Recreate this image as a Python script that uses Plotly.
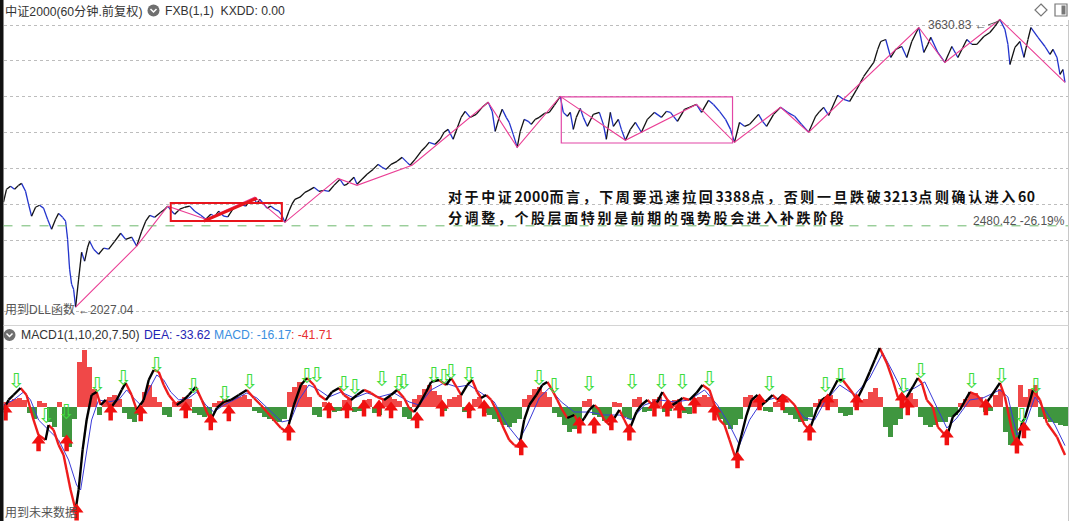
import plotly.graph_objects as go

W, H = 1080, 521


def px(x):
    return x / W


def py(y):
    return 1 - y / H


# ---------------- main panel: 60-min close (bar index, price) ----------------
bar_idx = [0, 3, 7, 11, 15, 18, 22, 25, 28, 32,
           36, 40, 44, 48, 52, 55, 59, 62, 64, 66,
           68, 70, 72, 75, 78, 81, 84, 86, 90, 95,
           100, 105, 111, 117, 122, 128, 133, 138, 142, 146,
           151, 157, 161, 164, 168, 171, 176, 181, 186, 191,
           197, 202, 207, 211, 215, 220, 224, 229, 236, 242,
           246, 250, 253, 256, 260, 263, 267, 271, 275, 278,
           281, 285, 288, 291, 296, 301, 305, 310, 315, 320,
           325, 330, 336, 340, 343, 347, 350, 353, 358, 363,
           369, 374, 378, 382, 387, 393, 398, 403, 406, 411,
           417, 421, 425, 431, 436, 440, 444, 449, 453, 457,
           461, 466, 472, 478, 484, 488, 491, 495, 498, 502,
           505, 509, 513, 516, 520, 524, 527, 531, 535, 540,
           545, 550, 556, 559, 563, 566, 569, 572, 576, 579,
           583, 589, 595, 599, 602, 606, 609, 614, 617, 621,
           626, 631, 637, 643, 650, 657, 662, 666, 673, 680,
           685, 692, 697, 704, 709, 715, 721, 726, 730, 735,
           740, 745, 754, 758, 762, 769, 776, 783, 790, 797,
           804, 811, 815, 819, 824, 833, 839, 845, 852, 859,
           864, 869, 873, 876, 881, 886, 891, 897, 902, 907,
           914, 919, 923, 926, 933, 940, 947, 953, 958, 962,
           967, 972, 979, 985, 990, 995, 1000, 1003, 1005, 1010,
           1015, 1019, 1023, 1026, 1033, 1040, 1045, 1048, 1052, 1055,
           1058, 1060]
close = [2612, 2684, 2701, 2684, 2706, 2717, 2673, 2601, 2534, 2584,
         2595, 2579, 2517, 2461, 2517, 2550, 2528, 2506, 2406, 2239,
         2155, 2127, 2027.04, 2183, 2333, 2283, 2361, 2394, 2350, 2322,
         2356, 2350, 2394, 2439, 2405, 2417, 2367, 2450, 2506, 2539,
         2528, 2556, 2573, 2590, 2562, 2545, 2573, 2584, 2590, 2562,
         2539, 2517, 2545, 2534, 2562, 2534, 2530, 2573, 2601, 2590,
         2623, 2634, 2606, 2628, 2601, 2579, 2590, 2573, 2562, 2539,
         2500, 2562, 2601, 2628, 2640, 2667, 2678, 2695, 2673, 2678,
         2673, 2706, 2740, 2706, 2712, 2734, 2751, 2712, 2740, 2768,
         2795, 2823, 2807, 2795, 2823, 2840, 2862, 2834, 2818, 2851,
         2896, 2918, 2946, 2935, 2963, 3002, 3018, 2963, 3024, 3085,
         3118, 3085, 3102, 3141, 3169, 3118, 3007, 3085, 3130, 3085,
         3057, 2990, 2918, 3007, 3074, 3063, 3046, 3074, 3085, 3107,
         3113, 3152, 3202, 3113, 3091, 3113, 3018, 3085, 3135, 3085,
         3035, 3102, 3113, 3046, 2963, 3113, 3035, 3074, 3018, 2957,
         3018, 3057, 3002, 3074, 3113, 3085, 3118, 3113, 3063, 3130,
         3141, 3157, 3113, 3180, 3157, 3118, 3074, 3018, 2946, 3057,
         3035, 3046, 3102, 3063, 3035, 3102, 3141, 3113, 3091, 3046,
         3002, 3091, 3118, 3141, 3096, 3208, 3185, 3174, 3241, 3313,
         3352, 3391, 3464, 3508, 3519, 3419, 3464, 3480, 3419, 3508,
         3586, 3447, 3492, 3531, 3447, 3391, 3480, 3419, 3475, 3519,
         3492, 3492, 3536, 3558, 3592, 3630.83, 3575, 3492, 3380, 3475,
         3508, 3419, 3519, 3586, 3531, 3480, 3436, 3464, 3419, 3325,
         3352, 3280]

# zig-zag (FXB) turning points
zz_idx = [72, 133, 164, 202, 251, 281, 334, 353, 408, 484, 513,
          556, 621, 692, 730, 776, 804, 914, 940, 995, 1060]
zz_val = [2027.04, 2367, 2590, 2517, 2640, 2500, 2745, 2706, 2818, 3169, 2918,
          3202, 2957, 3157, 2946, 3141, 3002, 3586, 3391, 3630.83, 3280]

grid_prices = [2000, 2200, 2400, 2600, 2800, 3000, 3200, 3400, 3600]
ref_level = 2480.42

# ---------------- MACD panel ----------------
dif_idx = [0, 5, 10, 17, 23, 30, 35, 42, 45, 50,
           55, 60, 63, 67, 72, 75, 79, 83, 88, 93,
           97, 102, 107, 113, 118, 122, 128, 133, 140, 145,
           150, 155, 160, 165, 173, 180, 185, 192, 198, 203,
           207, 213, 220, 227, 235, 243, 250, 257, 263, 270,
           277, 283, 290, 297, 303, 310, 315, 322, 328, 335,
           340, 347, 353, 360, 367, 373, 380, 387, 393, 400,
           405, 410, 415, 422, 427, 435, 442, 447, 453, 457,
           463, 468, 473, 477, 482, 487, 493, 498, 505, 510,
           515, 520, 525, 532, 538, 543, 548, 553, 558, 563,
           570, 575, 580, 585, 590, 595, 600, 605, 610, 615,
           620, 625, 632, 637, 643, 648, 653, 658, 663, 668,
           673, 678, 685, 692, 698, 705, 710, 715, 720, 725,
           731, 737, 742, 747, 753, 757, 763, 768, 773, 778,
           783, 790, 795, 800, 805, 812, 817, 825, 833, 838,
           848, 852, 858, 865, 870, 875, 882, 888, 893, 897,
           902, 908, 913, 917, 922, 928, 933, 942, 948, 955,
           965, 972, 980, 985, 995, 1000, 1007, 1012, 1017, 1020,
           1028, 1035, 1042, 1052, 1060]
dif_val = [-2.6, 6.1, 10.4, 16.5, 10.4, -11.3, -24.4, -28.7, -15.7, -20.0,
           -33.0, -41.8, -54.8, -72.2, -89.6, -72.2, -37.4, -11.3, 10.4, 13.0,
           1.7, 6.1, -0.9, 6.1, 14.8, 20.9, 10.4, -2.6, 6.1, 23.5,
           32.2, 30.5, 19.1, 10.4, 1.7, 6.1, 10.4, 17.4, 6.1, -4.4,
           -11.3, -0.9, 4.4, 6.1, 10.4, 14.8, 7.8, 1.7, -4.4, -11.3,
           -18.3, -21.8, 1.7, 19.1, 25.2, 19.1, 10.4, 6.1, 13.0, 16.5,
           10.4, 6.1, 10.4, 14.8, 12.2, 8.7, 6.1, 10.4, 14.8, 7.8,
           -0.9, -4.4, 1.7, 13.0, 21.8, 23.5, 19.1, 25.2, 16.5, 10.4,
           19.1, 23.5, 13.0, 7.8, 10.4, 6.1, -4.4, -15.7, -28.7, -33.1,
           -34.8, -11.3, 1.7, 10.4, 19.1, 21.8, 14.8, 6.1, -2.6, -9.6,
           -7.0, -15.7, -9.6, -2.6, 1.7, -2.6, -11.3, -15.7, -9.6, -2.6,
           -11.3, -20.0, -4.4, 1.7, 6.1, 1.7, 4.4, 13.0, 6.1, 1.7,
           4.4, 7.8, 6.1, 12.2, 19.1, 14.8, 1.7, -11.3, -15.7, -28.7,
           -44.4, -24.4, -7.0, 6.1, 10.4, 1.7, 6.1, 10.4, 6.1, 10.4,
           7.8, 1.7, -7.0, -15.7, -20.0, -2.6, 6.1, 10.4, 23.5, 23.5,
           12.2, 6.1, 16.5, 30.5, 40.9, 51.3, 38.3, 23.5, 8.7, 6.1,
           8.7, 17.4, 25.2, 20.9, 6.1, 0.0, -17.4, -26.1, -8.7, -2.6,
           13.0, 10.4, 1.7, 7.8, 20.9, 8.7, -20.0, -34.8, -13.9, -9.6,
           14.8, 6.1, -13.9, -26.1, -41.71]

dea_idx = [0, 10, 20, 27, 35, 45, 55, 65, 73, 77,
           83, 88, 95, 105, 115, 123, 130, 137, 145, 153,
           160, 167, 175, 185, 193, 202, 210, 220, 230, 243,
           253, 265, 278, 287, 295, 305, 315, 325, 337, 350,
           363, 375, 390, 405, 415, 427, 440, 453, 465, 477,
           490, 503, 515, 523, 535, 545, 557, 570, 585, 600,
           615, 627, 640, 655, 670, 685, 700, 713, 725, 735,
           745, 757, 770, 785, 800, 810, 820, 835, 850, 865,
           878, 888, 898, 910, 920, 930, 942, 952, 965, 978,
           995, 1003, 1012, 1020, 1030, 1040, 1050, 1060]
dea_val = [1.7, 6.1, 13.0, 6.1, -11.3, -20.0, -28.7, -46.1, -67.9, -72.2,
           -37.4, -11.3, 6.1, 4.4, 6.1, 14.8, 7.8, 1.7, 14.8, 27.8,
           23.5, 13.0, 6.1, 7.8, 13.0, 1.7, -4.4, 1.7, 6.1, 12.2,
           7.8, -2.6, -13.0, -11.3, 6.1, 19.1, 14.8, 8.7, 13.0, 7.8,
           12.2, 8.7, 12.2, 4.4, 1.7, 14.8, 20.9, 17.4, 19.1, 12.2,
           4.4, -15.7, -28.7, -15.7, 7.8, 16.5, 4.4, -4.4, -4.4, -7.0,
           -7.0, -11.3, 1.7, 6.1, 4.4, 6.1, 14.8, 1.7, -15.7, -33.1,
           -11.3, 4.4, 7.8, 6.1, -9.6, -11.3, 4.4, 19.1, 10.4, 25.2,
           47.0, 30.5, 13.0, 16.5, 21.8, 3.5, -18.3, -9.6, 6.1, 7.8,
           14.8, 8.7, -24.4, -15.7, 8.7, -2.6, -15.7, -33.62]

hist_idx = list(range(0, 1061, 5))
hist_val = [4.4, 5.2, 7.0, 7.8, 6.1, -5.2, -10.4, 5.2, 3.5, -13.1,
            -17.4, 4.4, -26.1, -34.8, -10.4, 39.2, 49.6, 34.8, 15.7, -7.0,
            4.4, 8.7, 10.4, 7.0, -5.2, -10.4, -13.1, -7.0, 13.1, 19.1,
            8.7, 4.4, -7.0, -8.7, 4.4, 5.2, 8.7, 7.0, -5.2, -7.0,
            -8.7, -7.0, 3.5, 5.2, 7.0, 5.2, 7.8, 8.7, 10.4, 7.0,
            -3.5, -5.2, -8.7, -10.4, -12.2, -13.1, -10.4, 13.1, 17.4, 21.8,
            19.1, 8.7, -7.0, -8.7, 4.4, 3.5, -4.4, -3.5, 6.1, 7.0,
            -4.4, -3.5, 6.1, 7.0, -5.2, -7.0, 7.0, 8.7, 7.0, 5.2,
            -8.7, -10.4, 7.0, 10.4, 15.7, 19.1, 13.9, 10.4, -3.5, 7.0,
            8.7, 10.4, -4.4, -3.5, 7.0, 8.7, -5.2, -7.0, -10.4, -13.1,
            -15.7, -17.4, -13.9, -10.4, 7.0, 10.4, 15.7, 17.4, 13.1, 8.7,
            -5.2, -8.7, -15.7, -21.8, -19.1, -10.4, 5.2, 7.0, -7.0, -8.7,
            -12.2, -13.1, 4.4, 3.5, -8.7, -10.4, 7.0, 8.7, -4.4, -3.5,
            7.0, 8.7, -4.4, -3.5, 6.1, 7.0, -5.2, -6.1, 7.8, 8.7,
            10.4, 8.7, -7.0, -10.4, -15.7, -19.1, -15.7, -10.4, 8.7, 10.4,
            7.0, 5.2, -3.5, -4.4, 4.4, 3.5, -5.2, -7.0, -10.4, -13.1,
            -12.2, -8.7, 3.5, 7.0, 8.7, 10.4, 7.0, -5.2, -7.8, -7.0,
            5.2, 6.1, 7.0, 13.1, 16.5, 8.7, -17.4, -26.1, -15.7, -10.4,
            8.7, 12.2, 7.0, -8.7, -15.7, -17.4, -15.7, -13.1, -13.1, -8.7,
            -7.0, 3.5, 7.0, 13.1, 12.2, 8.7, -4.4, -3.5, 10.4, 15.7,
            -21.8, -33.1, -30.5, 19.1, 8.7, 15.7, 19.1, -8.7, -10.4, -13.1,
            -13.9, -15.7, -16.17]

sell_idx = [13, 43, 63, 94, 120, 153, 190, 221, 246, 303, 313, 340, 351, 378,
            395, 400, 430, 440, 447, 465, 535, 550, 585, 628, 657, 678, 705,
            765, 821, 836, 899, 916, 967, 997, 1017, 1031]
sell_val = [20.9, -9.6, -6.1, 17.4, 23.5, 34.8, 16.5, 9.6, 20.0, 25.2, 26.1, 18.3,
            15.7, 22.6, 18.3, 20.0, 26.1, 24.4, 28.7, 26.1, 23.5, 16.5, 18.3, 20.0,
            20.0, 20.0, 22.6, 18.3, 17.4, 25.2, 16.5, 29.6, 20.9, 25.2, -9.6, 16.5]
buy_idx = [2, 35, 63, 73, 107, 137, 182, 207, 225, 285, 325, 343, 360, 375, 387,
           413, 438, 465, 480, 517, 575, 590, 607, 625, 650, 663, 675, 690, 710,
           733, 755, 778, 805, 823, 852, 897, 903, 942, 981, 1012, 1019]
buy_val = [-4.4, -31.3, -31.3, -91.4, -4.4, -5.2, -2.6, -13.0, -5.2, -21.8, -2.6,
           -2.6, -0.9, -0.9, -2.6, -11.3, -0.9, -2.6, -0.9, -34.8, -15.7, -15.7,
           -13.0, -21.8, -0.9, -0.9, -2.6, 1.7, -4.4, -46.1, 4.4, 4.4, -21.8, 4.4,
           4.4, 6.1, 0.0, -26.1, 0.0, -33.1, -20.0]

# ---------------- figure ----------------
fig = go.Figure()


def split_segments(xs, ys):
    ux, uy, dx, dy = [], [], [], []
    for i in range(len(xs) - 1):
        if ys[i + 1] >= ys[i]:
            ux += [xs[i], xs[i + 1], None]
            uy += [ys[i], ys[i + 1], None]
        else:
            dx += [xs[i], xs[i + 1], None]
            dy += [ys[i], ys[i + 1], None]
    return ux, uy, dx, dy


ux, uy, dx, dy = split_segments(bar_idx, close)
fig.add_trace(go.Scatter(x=dx, y=dy, mode="lines", line=dict(color="#2233cc", width=1.3),
                         xaxis="x", yaxis="y", hoverinfo="skip", showlegend=False))
fig.add_trace(go.Scatter(x=ux, y=uy, mode="lines", line=dict(color="#111111", width=1.3),
                         xaxis="x", yaxis="y", hoverinfo="skip", showlegend=False))
fig.add_trace(go.Scatter(x=zz_idx, y=zz_val, mode="lines", line=dict(color="#ea3f95", width=1.1),
                         xaxis="x", yaxis="y", hoverinfo="skip", showlegend=False))

# MACD histogram
fig.add_trace(go.Bar(x=hist_idx, y=hist_val, width=5,
                     marker=dict(color=["#f04848" if v >= 0 else "#3f963f" for v in hist_val],
                                 line=dict(width=0)),
                     xaxis="x2", yaxis="y2", hoverinfo="skip", showlegend=False))
fig.add_trace(go.Scatter(x=dea_idx, y=dea_val, mode="lines", line=dict(color="#3a3ad8", width=1),
                         xaxis="x2", yaxis="y2", hoverinfo="skip", showlegend=False))
ux, uy, dx, dy = split_segments(dif_idx, dif_val)
fig.add_trace(go.Scatter(x=dx, y=dy, mode="lines", line=dict(color="#ee1c1c", width=2.4),
                         xaxis="x2", yaxis="y2", hoverinfo="skip", showlegend=False))
fig.add_trace(go.Scatter(x=ux, y=uy, mode="lines", line=dict(color="#000000", width=2.4),
                         xaxis="x2", yaxis="y2", hoverinfo="skip", showlegend=False))

# signal arrows: green hollow down (sell), red solid up (buy)
fig.add_trace(go.Scatter(x=sell_idx, y=sell_val, mode="text", text=["⇩"] * len(sell_idx),
                         textfont=dict(family="DejaVu Sans", size=21, color="#3edc3e"),
                         xaxis="x2", yaxis="y2", hoverinfo="skip", showlegend=False))
UNIT = 0.87  # MACD units per pixel
fig.add_trace(go.Scatter(x=buy_idx, y=[v - 3.5 * UNIT for v in buy_val], mode="markers",
                         marker=dict(symbol="line-ns", size=7, line=dict(color="#f01010", width=4.5)),
                         xaxis="x2", yaxis="y2", hoverinfo="skip", showlegend=False))
fig.add_trace(go.Scatter(x=buy_idx, y=[v + 2.5 * UNIT for v in buy_val], mode="markers",
                         marker=dict(symbol="triangle-up", size=12, color="#f01010", line=dict(width=0)),
                         xaxis="x2", yaxis="y2", hoverinfo="skip", showlegend=False))

# axes mapping
x_range = [0, 1063]
p_top, p_bot = 3639.0, 1944.2
m_top, m_bot = 60.0, -99.2

shapes = [
    # left dark strip
    dict(type="rect", xref="paper", yref="paper", x0=0, x1=px(3.5), y0=0, y1=1,
         fillcolor="#111111", line=dict(width=0), layer="above"),
    # right border
    dict(type="line", xref="paper", yref="paper", x0=px(1068.5), x1=px(1068.5), y0=0, y1=py(20),
         line=dict(color="#c8c8c8", width=1)),
    # panel separator
    dict(type="line", xref="paper", yref="paper", x0=px(3.5), x1=px(1068.5), y0=py(325.5), y1=py(325.5),
         line=dict(color="#d4d4d4", width=1)),
    # reference dashed level
    dict(type="line", xref="paper", yref="y", x0=px(3.5), x1=px(1068), y0=ref_level, y1=ref_level,
         line=dict(color="#6db86d", width=1, dash="dash")),
    # red box 1
    dict(type="rect", xref="x", yref="y", x0=167, x1=278, y0=2507, y1=2608,
         line=dict(color="#e8141c", width=2)),
    # thick red trend line inside box 1
    dict(type="line", xref="x", yref="y", x0=200, x1=253, y0=2507, y1=2634,
         line=dict(color="#e8141c", width=3)),
    # pink box 2
    dict(type="rect", xref="x", yref="y", x0=557, x1=728, y0=2942, y1=3199,
         line=dict(color="#e246a6", width=1.2)),
    # peak label leader
    dict(type="line", xref="paper", yref="paper", x0=px(988), x1=px(999), y0=py(25), y1=py(21),
         line=dict(color="#555555", width=1)),
    # header icon (circle)
    dict(type="circle", xref="paper", yref="paper", x0=px(147.5), x1=px(159.5), y0=py(16.5), y1=py(4.5),
         fillcolor="#6f6f6f", line=dict(width=0)),
    dict(type="path", xref="paper", yref="paper",
         path=f"M{px(150.5)},{py(9)} L{px(153.5)},{py(12)} L{px(156.5)},{py(9)}",
         line=dict(color="white", width=1.5)),
    # MACD icon
    dict(type="circle", xref="paper", yref="paper", x0=px(3.5), x1=px(15.5), y0=py(341), y1=py(329),
         fillcolor="#6f6f6f", line=dict(width=0)),
    dict(type="path", xref="paper", yref="paper",
         path=f"M{px(6.5)},{py(333.5)} L{px(9.5)},{py(336.5)} L{px(12.5)},{py(333.5)}",
         line=dict(color="white", width=1.5)),
    # top-right icons
    dict(type="path", xref="paper", yref="paper",
         path=f"M{px(1041)},{py(4)} L{px(1047)},{py(10)} L{px(1041)},{py(16)} L{px(1035)},{py(10)} Z",
         line=dict(color="#777777", width=1.2)),
    dict(type="rect", xref="paper", yref="paper", x0=px(1055), x1=px(1067), y0=py(16), y1=py(4),
         line=dict(color="#777777", width=1.2)),
    dict(type="rect", xref="paper", yref="paper", x0=px(1061.5), x1=px(1065.5), y0=py(14.5), y1=py(5.5),
         fillcolor="#777777", line=dict(width=0)),
]

FAM = "Liberation Sans, Noto Sans CJK SC, sans-serif"
hdr_font = dict(family=FAM, size=12.2, color="#333333")
gray_font = dict(family=FAM, size=12, color="#555555")
note_font = dict(family="Noto Sans CJK SC, sans-serif", size=14, color="#111111")

line1_parts = ["对于中证", "2000", "而言，下周要迅速拉回", "3388", "点，否则一旦跌破", "3213", "点则确认进入", "60"]
line2_parts = ["分调整，个股层面特别是前期的强势股会进入补跌阶段"]


def spaced(parts):
    out = []
    for p in parts:
        if p.isdigit():
            out.append("<span style='letter-spacing:0.5px'>" + p + "</span>")
        else:
            out.append("<span style='letter-spacing:2.6px'>" + p + "</span>")
    return "<b>" + "".join(out) + "</b>"


def label(x, y, text, font, anchor="left"):
    return dict(x=px(x), y=py(y), xref="paper", yref="paper", xanchor=anchor, yanchor="middle",
                text=text, showarrow=False, font=font)


annotations = [
    label(3, 11, "中证2000(60分钟.前复权)", hdr_font),
    label(163, 11, "FXB(1,1)  KXDD: 0.00", hdr_font),
    label(19, 335, "MACD1(1,10,20,7.50)", hdr_font),
    label(142, 335, "DEA: -33.62", dict(family=FAM, size=12.2, color="#2424b4")),
    label(212, 335, "MACD: -16.17", dict(family=FAM, size=12.2, color="#3b8fe0")),
    label(289, 335, ": -41.71", dict(family=FAM, size=12.2, color="#e83030")),
    label(3, 309, "用到DLL函数", gray_font),
    label(76, 310, "←2027.04", gray_font),
    label(989, 25, "3630.83 ←", gray_font, anchor="right"),
    label(1067, 221, "2480.42 -26.19%", gray_font, anchor="right"),
    label(3, 512, "用到未来数据", gray_font),
    label(446, 196, spaced(line1_parts), note_font),
    label(446, 217, spaced(line2_parts), note_font),
]

fig.update_layout(
    width=W, height=H,
    margin=dict(l=0, r=0, t=0, b=0),
    paper_bgcolor="white", plot_bgcolor="white",
    showlegend=False, bargap=0,
    xaxis=dict(domain=[px(3.5), px(1068)], range=x_range, visible=False, anchor="y"),
    yaxis=dict(domain=[py(322), py(18)], range=[p_bot, p_top], anchor="x",
               tickvals=grid_prices, showticklabels=False, ticks="",
               showgrid=True, gridcolor="#bdbdbd", griddash="dot", gridwidth=1,
               zeroline=False, showline=False),
    xaxis2=dict(domain=[px(3.5), px(1068)], range=x_range, visible=False, anchor="y2"),
    yaxis2=dict(domain=[0, py(338)], range=[m_bot, m_top], anchor="x2",
                tickvals=[50.5], showticklabels=False, ticks="",
                showgrid=True, gridcolor="#c8c8c8", griddash="dot", gridwidth=1,
                zeroline=False, showline=False),
    shapes=shapes,
    annotations=annotations,
)

fig.write_html("out.html", config={"displayModeBar": False},
               post_script="document.body.style.margin='0';document.body.style.overflow='hidden';")
